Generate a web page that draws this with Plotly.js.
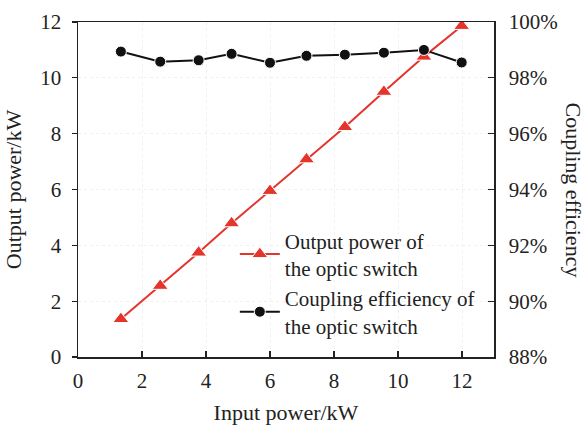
<!DOCTYPE html>
<html>
<head>
<meta charset="utf-8">
<script src="https://cdn.plot.ly/plotly-3.0.1.min.js"></script>
<style>html,body{margin:0;padding:0;background:#fff;}#chart{width:585px;height:425px;}</style>
</head>
<body>
<div id="chart"></div>
<script>
const inputPower = [1.34, 2.57, 3.77, 4.8, 6.0, 7.14, 8.34, 9.56, 10.81, 11.99];
const outputPower = [1.36, 2.55, 3.74, 4.79, 5.95, 7.08, 8.24, 9.5, 10.76, 11.86];
const couplingEff = [98.94, 98.58, 98.63, 98.86, 98.54, 98.79, 98.83, 98.9, 99.0, 98.55];
const seriesNames = ['Output power of<br>the optic switch', 'Coupling efficiency of<br>the optic switch'];
const xTicks = [0, 2, 4, 6, 8, 10, 12];

const FONT = 'Liberation Serif';
const TXT = '#222';

const traces = [
  {
    x: inputPower, y: outputPower, name: seriesNames[0], type: 'scatter', mode: 'lines+markers',
    line: {color: '#e4342c', width: 2},
    marker: {symbol: 'triangle-up', size: 14, color: '#e4342c', line: {color: '#fff', width: 1}},
    yaxis: 'y'
  },
  {
    x: inputPower, y: couplingEff, name: seriesNames[1], type: 'scatter', mode: 'lines+markers',
    line: {color: '#111', width: 2},
    marker: {symbol: 'circle', size: 11, color: '#111', line: {color: '#fff', width: 1}},
    yaxis: 'y2'
  }
];

const layout = {
  width: 585, height: 425,
  margin: {l: 78, r: 91, t: 22, b: 68},
  paper_bgcolor: '#fff', plot_bgcolor: '#fff',
  font: {family: FONT, size: 21, color: TXT},
  showlegend: true,
  legend: {x: 0.377, y: 0.408, xanchor: 'left', yanchor: 'top', bgcolor: 'rgba(0,0,0,0)',
           font: {family: FONT, size: 21, color: TXT}, tracegroupgap: 2, itemwidth: 40},
  xaxis: {
    range: [0, 13], tickvals: xTicks, ticks: 'inside', ticklen: 6, tickwidth: 1.2,
    tickcolor: '#222', showline: true, linecolor: '#222', linewidth: 1.5, mirror: true,
    showgrid: true, gridcolor: '#f0f0f0', griddash: 'dot', gridwidth: 1,
    zeroline: false, ticklabelstandoff: 4,
    tickfont: {family: FONT, size: 21},
    title: {text: 'Input power/kW', font: {family: FONT, size: 22, color: TXT}, standoff: 20}
  },
  yaxis: {
    range: [0, 12], dtick: 2, ticks: 'outside', ticklen: 5, tickwidth: 1.2, tickcolor: '#222',
    showline: true, linecolor: '#222', linewidth: 1.5, ticklabelstandoff: 6,
    showgrid: true, gridcolor: '#f0f0f0', griddash: 'dot', gridwidth: 1, zeroline: false,
    tickfont: {family: FONT, size: 21},
    title: {text: 'Output power/kW', font: {family: FONT, size: 22, color: TXT}, standoff: 12}
  },
  yaxis2: {
    overlaying: 'y', side: 'right', range: [88, 100], dtick: 2, ticksuffix: '%',
    ticks: 'inside', ticklen: 6, tickwidth: 1.2, tickcolor: '#222', ticklabelstandoff: 9,
    showline: true, linecolor: '#222', linewidth: 1.5, showgrid: false, zeroline: false,
    tickfont: {family: FONT, size: 21}
  },
  annotations: [{
    text: 'Coupling efficiency', xref: 'paper', yref: 'paper', x: 1.19, y: 0.5,
    xanchor: 'center', yanchor: 'middle', showarrow: false, textangle: 90,
    font: {family: FONT, size: 22, color: TXT}
  }]
};

Plotly.newPlot('chart', traces, layout, {staticPlot: true});
</script>
</body>
</html>
